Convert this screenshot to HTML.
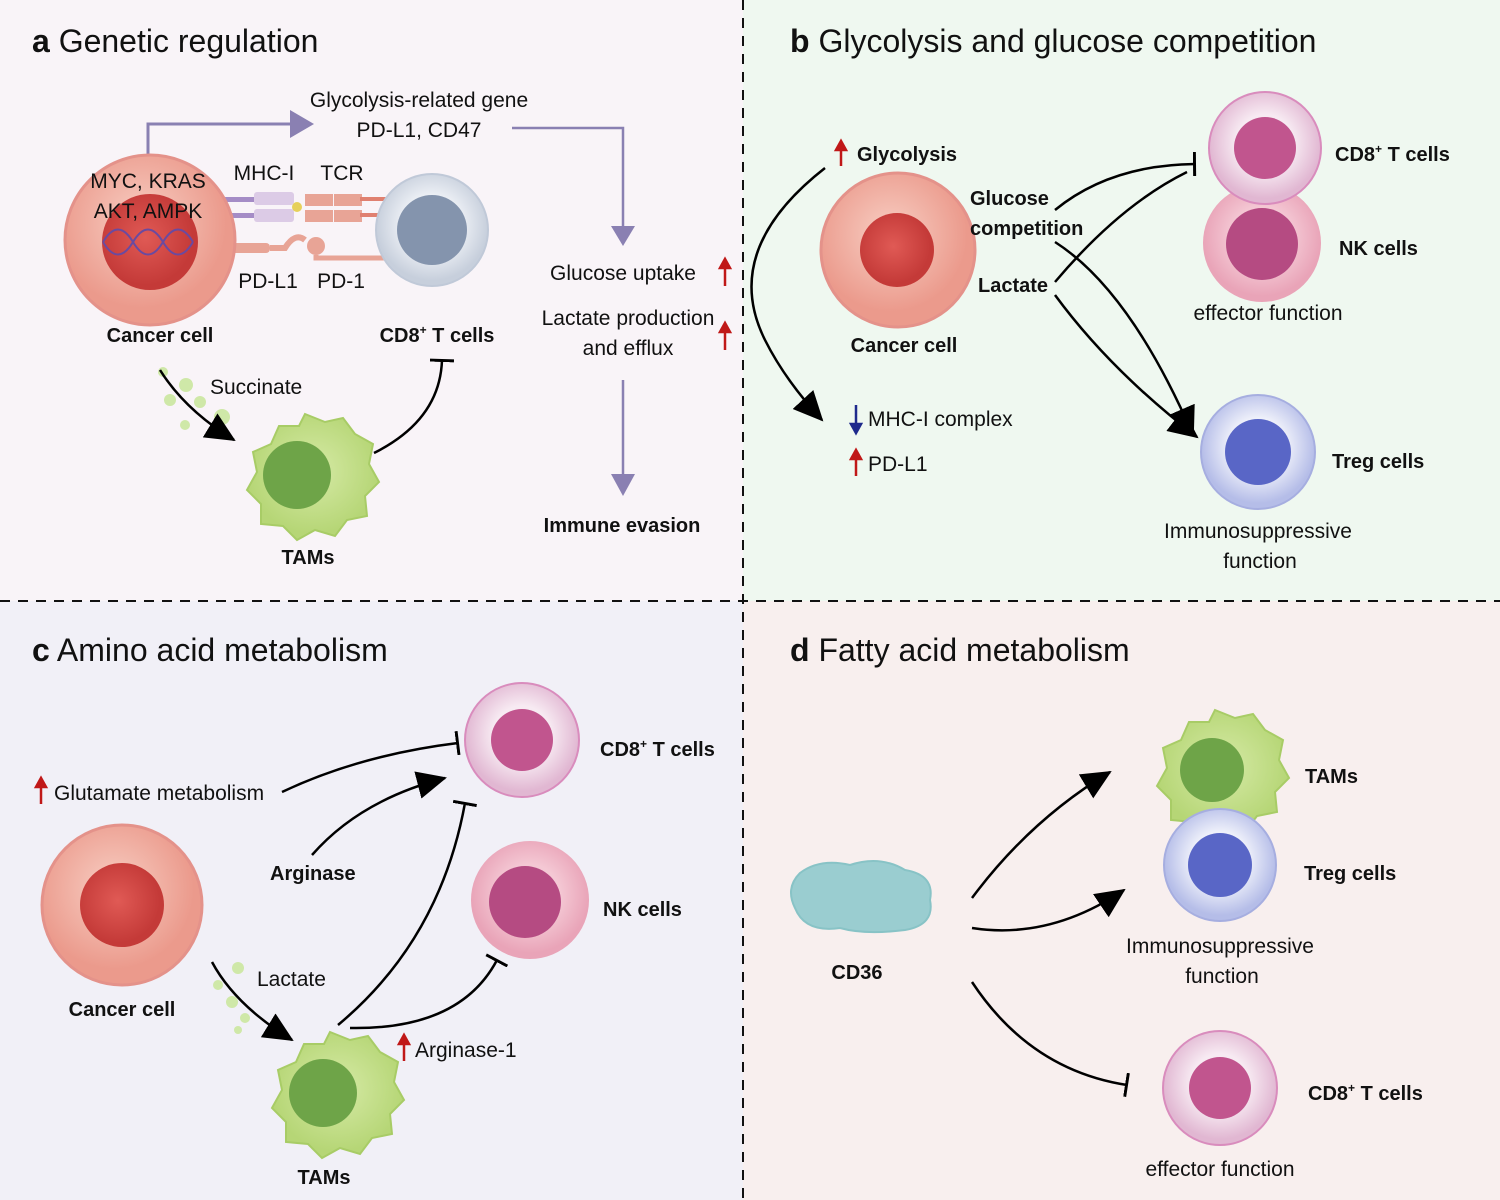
<!DOCTYPE html>
<html><head><meta charset="utf-8"><style>
html,body{margin:0;padding:0;background:#fff}
svg{display:block}
text{font-family:"Liberation Sans",sans-serif;fill:#111}
.t{font-size:32px}
.l{font-size:21px}
.b{font-size:20px;font-weight:bold}
</style></head><body>
<svg width="1500" height="1200" viewBox="0 0 1500 1200" xmlns="http://www.w3.org/2000/svg">
<defs>
<marker id="ah" markerWidth="30" markerHeight="28" refX="28" refY="14" orient="auto" markerUnits="userSpaceOnUse"><path d="M0,0 L30,14 L0,28z" fill="#000"/></marker>
<marker id="bar" markerWidth="4" markerHeight="24" refX="2" refY="12" orient="auto" markerUnits="userSpaceOnUse"><rect x="0" y="0" width="3" height="24" fill="#000"/></marker>
<radialGradient id="gc" cx="45%" cy="40%"><stop offset="0" stop-color="#f8cfc4"/><stop offset="1" stop-color="#eb9a8c"/></radialGradient>
<radialGradient id="gcn" cx="45%" cy="45%"><stop offset="0" stop-color="#e05a55"/><stop offset="1" stop-color="#c43a38"/></radialGradient>
<radialGradient id="gt" cx="50%" cy="45%"><stop offset="0.5" stop-color="#f7eaf2"/><stop offset="1" stop-color="#e1b7d2"/></radialGradient>
<radialGradient id="gn" cx="50%" cy="45%"><stop offset="0.5" stop-color="#f4c8d4"/><stop offset="1" stop-color="#e9a4b8"/></radialGradient>
<radialGradient id="gr" cx="50%" cy="45%"><stop offset="0.5" stop-color="#eef0fa"/><stop offset="1" stop-color="#b5bde8"/></radialGradient>
<radialGradient id="gg" cx="50%" cy="45%"><stop offset="0.5" stop-color="#eef1f6"/><stop offset="1" stop-color="#c7cfdc"/></radialGradient>
<radialGradient id="gm" cx="50%" cy="45%"><stop offset="0" stop-color="#d6eaa6"/><stop offset="1" stop-color="#b6d676"/></radialGradient>
</defs>
<rect x="0" y="0" width="743" height="601" fill="#f9f4f8"/>
<rect x="743" y="0" width="757" height="601" fill="#eff8f0"/>
<rect x="0" y="601" width="743" height="599" fill="#f1f0f7"/>
<rect x="743" y="601" width="757" height="599" fill="#f8efee"/>
<line x1="743" y1="0" x2="743" y2="1200" stroke="#111" stroke-width="2" stroke-dasharray="10,8"/>
<line x1="0" y1="601" x2="1500" y2="601" stroke="#111" stroke-width="2" stroke-dasharray="10,8"/>

<text x="32" y="52" class="t"><tspan font-weight="bold">a</tspan> Genetic regulation</text>
<text x="790" y="52" class="t"><tspan font-weight="bold">b</tspan> Glycolysis and glucose competition</text>
<text x="32" y="661" class="t"><tspan font-weight="bold">c</tspan> Amino acid metabolism</text>
<text x="790" y="661" class="t"><tspan font-weight="bold">d</tspan> Fatty acid metabolism</text>

<!-- Panel a -->
<path d="M148,158 V124 H290" fill="none" stroke="#8a80b2" stroke-width="3"/>
<path d="M290,110 L314,124 L290,138z" fill="#8a80b2"/>
<path d="M512,128 H623 V228" fill="none" stroke="#8a80b2" stroke-width="2.5"/>
<path d="M611,226 L623,246 L635,226z" fill="#8a80b2"/>
<path d="M623,380 V476" fill="none" stroke="#8a80b2" stroke-width="2.5"/>
<path d="M611,474 L623,496 L635,474z" fill="#8a80b2"/>
<text x="419" y="107" class="l" text-anchor="middle">Glycolysis-related gene</text>
<text x="419" y="137" class="l" text-anchor="middle">PD-L1, CD47</text>
<rect x="220" y="197" width="40" height="5" fill="#a58cc6"/><rect x="220" y="213" width="40" height="5" fill="#a58cc6"/>
<rect x="254" y="192" width="40" height="13" rx="3" fill="#dccbe6"/><rect x="254" y="209" width="40" height="13" rx="3" fill="#dccbe6"/>
<circle cx="297" cy="207" r="5" fill="#e6d05a"/>
<rect x="305" y="194" width="28" height="12" fill="#e8a496"/><rect x="334" y="194" width="28" height="12" fill="#e8a496"/>
<rect x="305" y="210" width="28" height="12" fill="#e8a496"/><rect x="334" y="210" width="28" height="12" fill="#e8a496"/>
<rect x="360" y="197" width="30" height="4" fill="#e08070"/><rect x="360" y="213" width="30" height="4" fill="#e08070"/>
<rect x="230" y="243" width="40" height="10" rx="4" fill="#e8a496"/>
<path d="M270,248 H285 Q295,232 305,240" fill="none" stroke="#e8a496" stroke-width="6"/>
<circle cx="316" cy="246" r="9" fill="#e8a496"/>
<path d="M316,255 V258 H385" fill="none" stroke="#e8a496" stroke-width="5"/>
<circle cx="150" cy="240" r="85" fill="url(#gc)" stroke="#e4928a" stroke-width="3"/>
<circle cx="150" cy="242" r="48" fill="url(#gcn)"/>
<path d="M103,242 q15,-25 30,0 t30,0 t30,0 M103,242 q15,25 30,0 t30,0 t30,0" fill="none" stroke="#6a4aa0" stroke-width="2"/>
<text x="148" y="188" class="l" text-anchor="middle">MYC, KRAS</text>
<text x="148" y="218" class="l" text-anchor="middle">AKT, AMPK</text>
<circle cx="432" cy="230" r="56" fill="url(#gg)" stroke="#c0c9d8" stroke-width="2"/>
<circle cx="432" cy="230" r="35" fill="#8494ad"/>
<text x="264" y="180" class="l" text-anchor="middle">MHC-I</text>
<text x="342" y="180" class="l" text-anchor="middle">TCR</text>
<text x="268" y="288" class="l" text-anchor="middle">PD-L1</text>
<text x="341" y="288" class="l" text-anchor="middle">PD-1</text>
<text x="160" y="342" class="b" text-anchor="middle">Cancer cell</text>
<text x="437" y="342" class="b" text-anchor="middle">CD8<tspan font-size="12" dy="-8">+</tspan><tspan dy="8"> T cells</tspan></text>
<g fill="#cfe8a8"><circle cx="163" cy="372" r="5"/><circle cx="186" cy="385" r="7"/><circle cx="170" cy="400" r="6"/><circle cx="200" cy="402" r="6"/><circle cx="222" cy="417" r="8"/><circle cx="185" cy="425" r="5"/></g>
<path d="M160,370 Q185,410 234,440" fill="none" stroke="#000" stroke-width="2.5" marker-end="url(#ah)"/>
<text x="210" y="394" class="l">Succinate</text>
<path d="M374,453 Q440,420 442,360" fill="none" stroke="#000" stroke-width="2.5" marker-end="url(#bar)"/>
<path d="M305,414 l20,8 l18,-4 l12,16 l18,10 l-4,20 l10,18 l-14,14 l2,20 l-20,4 l-12,16 l-20,-6 l-18,10 l-14,-14 l-22,-2 l0,-20 l-14,-14 l10,-18 l-4,-20 l18,-8 l8,-18 l20,0z" fill="url(#gm)" stroke="#a8cc66" stroke-width="2"/>
<circle cx="297" cy="475" r="34" fill="#6ea448"/>
<text x="308" y="564" class="b" text-anchor="middle">TAMs</text>
<text x="623" y="280" class="l" text-anchor="middle">Glucose uptake</text>
<text x="628" y="325" class="l" text-anchor="middle">Lactate production</text>
<text x="628" y="355" class="l" text-anchor="middle">and efflux</text>
<g stroke="#c01818" stroke-width="2.5" fill="#c01818">
<line x1="725" y1="286" x2="725" y2="264"/><path d="M720,268 L725,259 L730,268z"/>
<line x1="725" y1="350" x2="725" y2="328"/><path d="M720,332 L725,323 L730,332z"/>
</g>
<text x="622" y="532" class="b" text-anchor="middle">Immune evasion</text>

<!-- Panel b -->
<g stroke="#c01818" stroke-width="2.5" fill="#c01818"><line x1="841" y1="166" x2="841" y2="146"/><path d="M836,150 L841,141 L846,150z"/></g>
<text x="857" y="161" class="b">Glycolysis</text>
<path d="M825,168 Q720,250 765,340 Q785,380 822,420" fill="none" stroke="#000" stroke-width="2.5" marker-end="url(#ah)"/>
<circle cx="898" cy="250" r="77" fill="url(#gc)" stroke="#e4928a" stroke-width="3"/>
<circle cx="897" cy="250" r="37" fill="url(#gcn)"/>
<text x="904" y="352" class="b" text-anchor="middle">Cancer cell</text>
<text x="970" y="205" class="b">Glucose</text>
<text x="970" y="235" class="b">competition</text>
<text x="978" y="292" class="b">Lactate</text>
<path d="M1055,210 Q1110,165 1195,164" fill="none" stroke="#000" stroke-width="2.5" marker-end="url(#bar)"/>
<path d="M1055,282 Q1120,205 1187,172" fill="none" stroke="#000" stroke-width="2.5"/>
<path d="M1055,242 Q1130,290 1193,435" fill="none" stroke="#000" stroke-width="2.5" marker-end="url(#ah)"/>
<path d="M1055,295 Q1110,370 1197,437" fill="none" stroke="#000" stroke-width="2.5" marker-end="url(#ah)"/>
<circle cx="1262" cy="243" r="59" fill="url(#gn)"/>
<circle cx="1262" cy="244" r="36" fill="#b54b82"/>
<circle cx="1265" cy="148" r="56" fill="url(#gt)" stroke="#d98cbd" stroke-width="2"/>
<circle cx="1265" cy="148" r="31" fill="#c1558e"/>
<text x="1335" y="161" class="b">CD8<tspan font-size="12" dy="-8">+</tspan><tspan dy="8"> T cells</tspan></text>
<text x="1339" y="255" class="b">NK cells</text>
<text x="1268" y="320" class="l" text-anchor="middle">effector function</text>
<g stroke="#1e2a8c" stroke-width="2.5" fill="#1e2a8c"><line x1="856" y1="405" x2="856" y2="428"/><path d="M851,424 L856,433 L861,424z"/></g>
<text x="868" y="426" class="l">MHC-I complex</text>
<g stroke="#c01818" stroke-width="2.5" fill="#c01818"><line x1="856" y1="476" x2="856" y2="455"/><path d="M851,459 L856,450 L861,459z"/></g>
<text x="868" y="471" class="l">PD-L1</text>
<circle cx="1258" cy="452" r="57" fill="url(#gr)" stroke="#a6aee0" stroke-width="2"/>
<circle cx="1258" cy="452" r="33" fill="#5966c6"/>
<text x="1332" y="468" class="b">Treg cells</text>
<text x="1258" y="538" class="l" text-anchor="middle">Immunosuppressive</text>
<text x="1260" y="568" class="l" text-anchor="middle">function</text>

<!-- Panel c -->
<circle cx="522" cy="740" r="57" fill="url(#gt)" stroke="#d98cbd" stroke-width="2"/>
<circle cx="522" cy="740" r="31" fill="#c1558e"/>
<text x="600" y="756" class="b">CD8<tspan font-size="12" dy="-8">+</tspan><tspan dy="8"> T cells</tspan></text>
<circle cx="530" cy="900" r="59" fill="url(#gn)"/>
<circle cx="525" cy="902" r="36" fill="#b54b82"/>
<text x="603" y="916" class="b">NK cells</text>
<g stroke="#c01818" stroke-width="2.5" fill="#c01818"><line x1="41" y1="804" x2="41" y2="783"/><path d="M36,787 L41,778 L46,787z"/></g>
<text x="54" y="800" class="l">Glutamate metabolism</text>
<path d="M282,792 Q360,755 458,743" fill="none" stroke="#000" stroke-width="2.5" marker-end="url(#bar)"/>
<path d="M312,855 Q360,800 445,778" fill="none" stroke="#000" stroke-width="2.5" marker-end="url(#ah)"/>
<text x="270" y="880" class="b">Arginase</text>
<circle cx="122" cy="905" r="80" fill="url(#gc)" stroke="#e4928a" stroke-width="3"/>
<circle cx="122" cy="905" r="42" fill="url(#gcn)"/>
<text x="122" y="1016" class="b" text-anchor="middle">Cancer cell</text>
<g fill="#cfe8a8"><circle cx="238" cy="968" r="6"/><circle cx="218" cy="985" r="5"/><circle cx="232" cy="1002" r="6"/><circle cx="245" cy="1018" r="5"/><circle cx="238" cy="1030" r="4"/></g>
<path d="M212,962 Q235,1005 292,1040" fill="none" stroke="#000" stroke-width="2.5" marker-end="url(#ah)"/>
<text x="257" y="986" class="l">Lactate</text>
<path d="M338,1025 Q440,940 465,803" fill="none" stroke="#000" stroke-width="2.5" marker-end="url(#bar)"/>
<path d="M350,1028 Q460,1030 497,960" fill="none" stroke="#000" stroke-width="2.5" marker-end="url(#bar)"/>
<path d="M330,1032 l20,8 l18,-4 l12,16 l18,10 l-4,20 l10,18 l-14,14 l2,20 l-20,4 l-12,16 l-20,-6 l-18,10 l-14,-14 l-22,-2 l0,-20 l-14,-14 l10,-18 l-4,-20 l18,-8 l8,-18 l20,0z" fill="url(#gm)" stroke="#a8cc66" stroke-width="2"/>
<circle cx="323" cy="1093" r="34" fill="#6ea448"/>
<text x="324" y="1184" class="b" text-anchor="middle">TAMs</text>
<g stroke="#c01818" stroke-width="2.5" fill="#c01818"><line x1="404" y1="1061" x2="404" y2="1040"/><path d="M399,1044 L404,1035 L409,1044z"/></g>
<text x="415" y="1057" class="l">Arginase-1</text>

<!-- Panel d -->
<path d="M800,873 q20,-15 50,-8 q30,-10 55,5 q30,5 25,30 q5,25 -25,30 q-40,5 -65,-2 q-35,5 -45,-20 q-10,-20 5,-35z" fill="#9acdd0" stroke="#88c3c6" stroke-width="2"/>
<text x="857" y="979" class="b" text-anchor="middle">CD36</text>
<path d="M972,898 Q1030,820 1110,772" fill="none" stroke="#000" stroke-width="2.5" marker-end="url(#ah)"/>
<path d="M972,928 Q1050,940 1124,890" fill="none" stroke="#000" stroke-width="2.5" marker-end="url(#ah)"/>
<path d="M972,982 Q1030,1070 1127,1085" fill="none" stroke="#000" stroke-width="2.5" marker-end="url(#bar)"/>
<path d="M1215,710 l20,8 l18,-4 l12,16 l18,10 l-4,20 l10,18 l-14,14 l2,20 l-20,4 l-12,16 l-20,-6 l-18,10 l-14,-14 l-22,-2 l0,-20 l-14,-14 l10,-18 l-4,-20 l18,-8 l8,-18 l20,0z" fill="url(#gm)" stroke="#a8cc66" stroke-width="2"/>
<circle cx="1212" cy="770" r="32" fill="#6ea448"/>
<circle cx="1220" cy="865" r="56" fill="url(#gr)" stroke="#a6aee0" stroke-width="2"/>
<circle cx="1220" cy="865" r="32" fill="#5966c6"/>
<text x="1305" y="783" class="b">TAMs</text>
<text x="1304" y="880" class="b">Treg cells</text>
<text x="1220" y="953" class="l" text-anchor="middle">Immunosuppressive</text>
<text x="1222" y="983" class="l" text-anchor="middle">function</text>
<circle cx="1220" cy="1088" r="57" fill="url(#gt)" stroke="#d98cbd" stroke-width="2"/>
<circle cx="1220" cy="1088" r="31" fill="#c1558e"/>
<text x="1308" y="1100" class="b">CD8<tspan font-size="12" dy="-8">+</tspan><tspan dy="8"> T cells</tspan></text>
<text x="1220" y="1176" class="l" text-anchor="middle">effector function</text>
</svg>
</body></html>
